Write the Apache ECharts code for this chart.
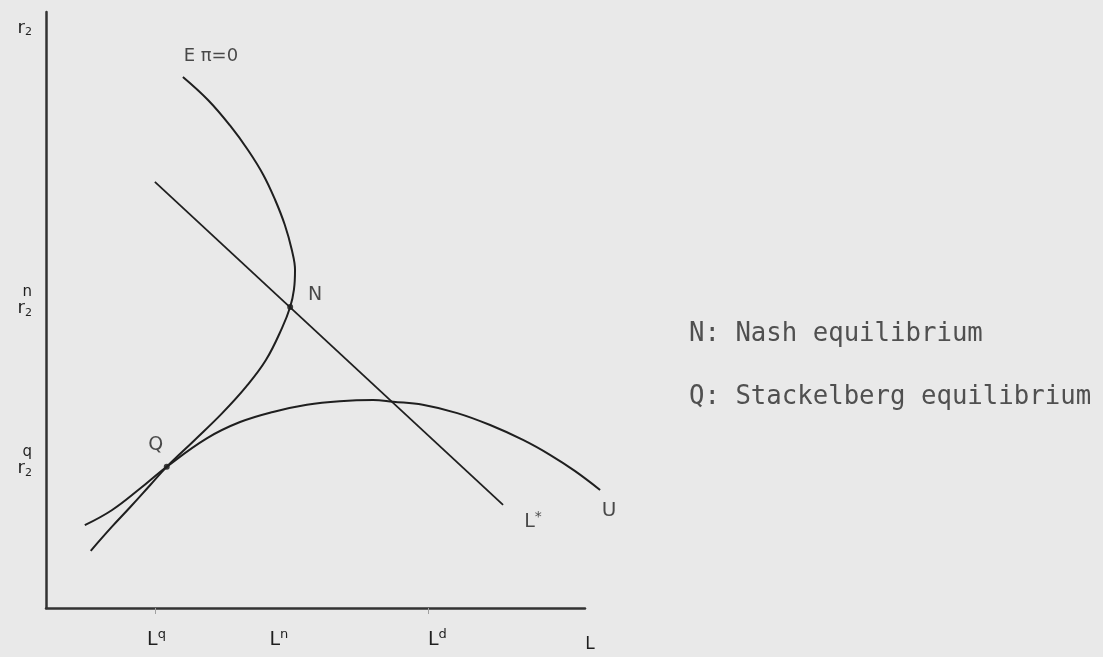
<!DOCTYPE html>
<html>
<head>
<meta charset="utf-8">
<script src="https://cdn.jsdelivr.net/npm/echarts@6/dist/echarts.min.js"></script>
<style>
  html, body { margin: 0; padding: 0; background: #e9e9e9; }
  #chart { width: 1103px; height: 657px; }
</style>
</head>
<body>
<div id="chart"></div>
<script>
// Zero expected-profit locus, from its upper end down through N and Q
const profitFrontier = [
  [2.54, 8.91], [3.01, 8.52], [3.41, 8.10], [3.75, 7.68], [4.03, 7.27],
  [4.25, 6.85], [4.43, 6.43], [4.56, 6.01], [4.62, 5.67], [4.60, 5.34],
  [4.53, 5.05], [4.38, 4.70], [4.08, 4.16], [3.71, 3.71], [3.27, 3.27],
  [2.76, 2.82], [2.24, 2.37], [1.93, 2.06], [1.56, 1.69], [1.22, 1.36],
  [0.83, 0.96]
];
// Indifference curve U, tangent to the frontier at Q
const utilityCurve = [
  [0.72, 1.39], [1.22, 1.64], [1.74, 2.00], [2.24, 2.37], [2.99, 2.85],
  [3.60, 3.12], [4.21, 3.29], [4.84, 3.41], [5.45, 3.47], [6.07, 3.49],
  [6.44, 3.46], [6.99, 3.41], [7.63, 3.27], [8.24, 3.07], [8.85, 2.82],
  [9.35, 2.57], [9.81, 2.30], [10.28, 1.98]
];
// Reaction line L*
const reactionLine = [[2.02, 7.15], [8.48, 1.73]];
const nashPoint = [4.53, 5.05];
const stackelbergPoint = [2.24, 2.37];

// Axis tick labels
const xLabelValues = [2.05, 4.32, 7.26];
const xLabelMarks = ['q', 'n', 'd'];
const xTickValues = [2.02, 7.09];
const yLabelValues = [2.45, 5.13];
const yLabelMarks = ['q', 'n'];

const ink = '#1f1f1f';
const hand = 'DejaVu Sans';

function nearestIndex(list, v) {
  let best = 0;
  list.forEach((x, i) => { if (Math.abs(x - v) < Math.abs(list[best] - v)) best = i; });
  return best;
}

const chart = echarts.init(document.getElementById('chart'), null, { renderer: 'canvas' });

// Both grids share the same scale; the second one is a little wider so the
// U curve can run past the end of the drawn L axis.
const plotLeft = 46, plotTop = 12, plotWidth = 539, plotHeight = 596;
const xMax = 10, xMaxWide = 10.5;

const curveStyle = { color: ink, width: 2 };
const hidden = { show: false };

chart.setOption({
  backgroundColor: '#e9e9e9',
  animation: false,
  grid: [
    { left: plotLeft, top: plotTop, width: plotWidth, height: plotHeight },
    { left: plotLeft, top: plotTop, width: plotWidth * xMaxWide / xMax, height: plotHeight }
  ],
  xAxis: [
    {
      gridIndex: 0, type: 'value', min: 0, max: xMax,
      name: 'L', nameLocation: 'end', nameGap: 5,
      nameTextStyle: { fontFamily: hand, fontSize: 17, color: ink, align: 'center', verticalAlign: 'top', padding: [28, 0, 0, 0] },
      axisLine: { show: true, onZero: false, lineStyle: { color: '#333', width: 2.5 } },
      axisTick: { show: true, customValues: xTickValues, length: 6, lineStyle: { color: '#a0a0a0', width: 1 } },
      splitLine: { show: false },
      axisLabel: {
        customValues: xLabelValues, margin: 20,
        formatter: v => '{b|L}{sup|' + xLabelMarks[nearestIndex(xLabelValues, v)] + '}',
        rich: {
          b: { fontFamily: hand, fontSize: 19, color: ink, lineHeight: 24 },
          sup: { fontFamily: hand, fontSize: 13, color: ink, lineHeight: 13, verticalAlign: 'top' }
        }
      }
    },
    {
      gridIndex: 1, type: 'value', min: 0, max: xMaxWide,
      axisLine: hidden, axisTick: hidden, axisLabel: hidden, splitLine: hidden
    }
  ],
  yAxis: [
    {
      gridIndex: 0, type: 'value', min: 0, max: 10,
      name: '{b|r}{sub|2}', nameLocation: 'end', nameGap: -6,
      nameTextStyle: {
        align: 'right', verticalAlign: 'top', padding: [0, 14, 0, 0],
        rich: {
          b: { fontFamily: hand, fontSize: 18, color: ink, lineHeight: 20 },
          sub: { fontFamily: hand, fontSize: 11, color: ink, lineHeight: 11, verticalAlign: 'bottom' }
        }
      },
      axisLine: { show: true, onZero: false, lineStyle: { color: '#333', width: 2.5 } },
      axisTick: { show: false },
      splitLine: { show: false },
      axisLabel: {
        customValues: yLabelValues, margin: 14, align: 'right',
        formatter: v => '{sup|' + yLabelMarks[nearestIndex(yLabelValues, v)] + '}\n{b|r}{sub|2}',
        rich: {
          b: { fontFamily: hand, fontSize: 18, color: ink, lineHeight: 20 },
          sub: { fontFamily: hand, fontSize: 11, color: ink, lineHeight: 11, verticalAlign: 'bottom' },
          sup: { fontFamily: hand, fontSize: 15, color: ink, lineHeight: 13 }
        }
      }
    },
    {
      gridIndex: 1, type: 'value', min: 0, max: 10,
      axisLine: hidden, axisTick: hidden, axisLabel: hidden, splitLine: hidden
    }
  ],
  series: [
    {
      type: 'line', xAxisIndex: 1, yAxisIndex: 1, data: profitFrontier, smooth: 0.4, symbol: 'none',
      lineStyle: curveStyle, silent: true
    },
    {
      type: 'line', xAxisIndex: 1, yAxisIndex: 1, data: utilityCurve, smooth: 0.4, symbol: 'none',
      lineStyle: curveStyle, silent: true
    },
    {
      type: 'line', xAxisIndex: 1, yAxisIndex: 1, data: reactionLine, symbol: 'none',
      lineStyle: { color: ink, width: 1.8 }, silent: true
    },
    {
      // equilibrium points
      type: 'scatter', xAxisIndex: 1, yAxisIndex: 1, symbol: 'circle', symbolSize: 6, silent: true,
      itemStyle: { color: '#111' },
      label: { show: true, position: 'inside', fontFamily: hand, fontSize: 19, color: ink },
      data: [
        { value: nashPoint, label: { formatter: 'N', offset: [25, -12] } },
        { value: stackelbergPoint, label: { formatter: 'Q', offset: [-11, -22] } }
      ]
    },
    {
      // curve names at the ends of the curves
      type: 'scatter', xAxisIndex: 1, yAxisIndex: 1, symbol: 'circle', symbolSize: 1, silent: true,
      itemStyle: { color: 'rgba(0,0,0,0)' },
      label: {
        show: true, position: 'inside', fontFamily: hand, fontSize: 18, color: ink,
        rich: {
          b: { fontFamily: hand, fontSize: 19, color: ink, lineHeight: 24 },
          sup: { fontFamily: hand, fontSize: 14, color: ink, lineHeight: 14, verticalAlign: 'top' }
        }
      },
      data: [
        { value: profitFrontier[0], label: { formatter: 'E π=0', offset: [28, -21] } },
        { value: reactionLine[reactionLine.length - 1], label: { formatter: '{b|L}{sup|*}', offset: [30, 17] } },
        { value: utilityCurve[utilityCurve.length - 1], label: { formatter: 'U', fontSize: 20, offset: [9, 21] } }
      ]
    }
  ],
  graphic: [
    {
      type: 'text', x: 689, y: 334,
      style: { text: 'N: Nash equilibrium', font: '25.7px "DejaVu Sans Mono"', fill: '#505050', align: 'left', verticalAlign: 'middle' }
    },
    {
      type: 'text', x: 689, y: 397,
      style: { text: 'Q: Stackelberg equilibrium', font: '25.7px "DejaVu Sans Mono"', fill: '#505050', align: 'left', verticalAlign: 'middle' }
    }
  ]
});
</script>
</body>
</html>
